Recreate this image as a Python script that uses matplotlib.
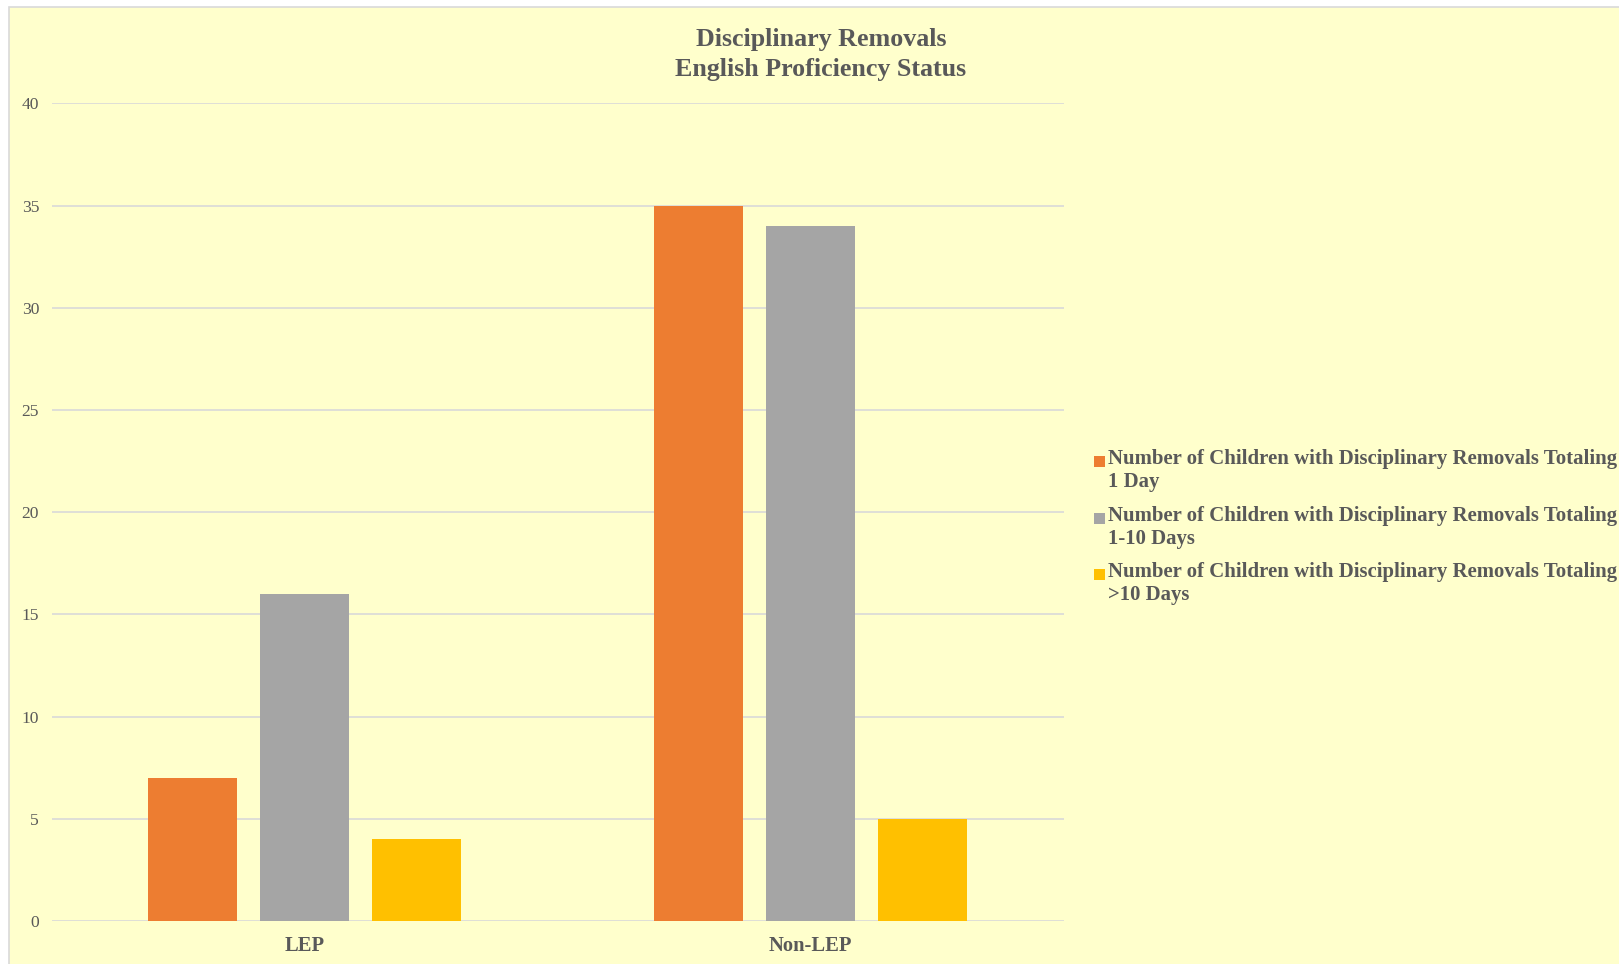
import numpy as np
import matplotlib
matplotlib.use('Agg')
import matplotlib.pyplot as plt
from matplotlib.patches import Rectangle

categories = ['LEP', 'Non-LEP']
series_names = [
    'Number of Children with Disciplinary Removals Totaling\n1 Day',
    'Number of Children with Disciplinary Removals Totaling\n1-10 Days',
    'Number of Children with Disciplinary Removals Totaling\n>10 Days',
]
one_day = [7, 35]
one_to_ten_days = [16, 34]
over_ten_days = [4, 5]
series_values = [one_day, one_to_ten_days, over_ten_days]
series_colors = ['#ED7D31', '#A5A5A5', '#FFC000']
y_ticks = [0, 5, 10, 15, 20, 25, 30, 35, 40]

TEXT = '#595959'
BG = '#FFFFCC'
GRID = '#D9D9D9'
SERIF = ['Liberation Serif', 'DejaVu Serif']

plt.rcParams['font.family'] = SERIF

fig = plt.figure(figsize=(16.19, 9.64), dpi=100)
fig.patch.set_facecolor('white')

# chart area background with thin border (top / left visible)
fig.patches.append(Rectangle(
    (8.5 / 1619, -0.01), 1.02, 1 - 6.5 / 964 + 0.01,
    transform=fig.transFigure, facecolor=BG, edgecolor=GRID,
    linewidth=1.2, zorder=-5
))

ax = fig.add_axes([51.6 / 1619, 43 / 964, 1012 / 1619, 817.7 / 964])
ax.set_facecolor('none')
ax.set_zorder(2)

x = np.arange(len(categories))
bar_width = 0.175
step = 0.2214

for i, (vals, color) in enumerate(zip(series_values, series_colors)):
    ax.bar(x + (i - 1) * step, vals, width=bar_width, color=color, zorder=3)

ax.set_xlim(-0.5, len(categories) - 0.5)
ax.set_ylim(0, 40)
ax.set_yticks(y_ticks)
ax.set_yticklabels([str(t) for t in y_ticks], fontsize=12.6, color=TEXT)
ax.set_xticks(x)
ax.set_xticklabels(categories, fontsize=14.8, fontweight='bold', color=TEXT)
ax.tick_params(axis='y', length=0, pad=9)
ax.tick_params(axis='x', length=0, pad=11)
ax.grid(axis='y', color=GRID, linewidth=1.2, zorder=0)
for side in ['top', 'right', 'left', 'bottom']:
    ax.spines[side].set_visible(False)

fig.text(821 / 1619, 1 - 54.5 / 964,
         'Disciplinary Removals\nEnglish Proficiency Status',
         ha='center', va='center', fontsize=18.7, fontweight='bold',
         color=TEXT, linespacing=1.35)

# legend drawn by hand so the marker sits on the first line
legend_rows = [461, 518, 574]
for name, color, row in zip(series_names, series_colors, legend_rows):
    fig.patches.append(Rectangle(
        (1094 / 1619, 1 - (row + 5.5) / 964), 11 / 1619, 11 / 964,
        transform=fig.transFigure, facecolor=color, edgecolor='none'
    ))
    fig.text(1108 / 1619, 1 - (row - 12) / 964, name,
             ha='left', va='top', fontsize=14.95, fontweight='bold',
             color=TEXT, linespacing=1.2)

fig.savefig('out.png', dpi=100, facecolor=fig.get_facecolor())
